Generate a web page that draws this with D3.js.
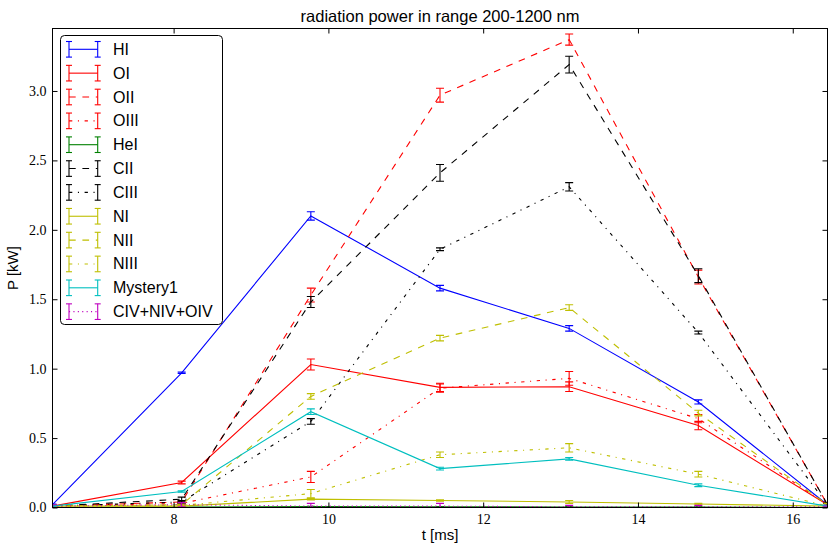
<!DOCTYPE html>
<html><head><meta charset="utf-8">
<script src="https://cdn.jsdelivr.net/npm/d3@7"></script>
<style>body{margin:0;background:#fff}svg{display:block}</style>
</head><body>
<svg id="c" width="837" height="552"></svg>
<script>
const times = [6.435, 8.104, 9.773, 11.442, 13.111, 14.780, 16.449];
const names = ["HI","OI","OII","OIII","HeI","CII","CIII","NI","NII","NIII","Mystery1","CIV+NIV+OIV"];
const colors = ["#0000ff","#ff0000","#ff0000","#ff0000","#008000","#000000","#000000","#bfbf00","#bfbf00","#bfbf00","#00bfbf","#bf00bf"];
const styles = ["-","-","--","-.","-","--","-.","-","--","-.","-",":"];
const HI    = [0.02, 0.97, 2.10, 1.58, 1.29, 0.76, 0.02];
const OI    = [0.01, 0.18, 1.03, 0.865, 0.87, 0.59, 0.02];
const OII   = [0.01, 0.04, 1.53, 2.97, 3.37, 1.66, 0.02];
const OIII  = [0.01, 0.03, 0.22, 0.86, 0.93, 0.64, 0.02];
const HeI   = [0.0, 0.003, 0.006, 0.005, 0.004, 0.003, 0.0];
const CII   = [0.01, 0.06, 1.48, 2.41, 3.19, 1.67, 0.02];
const CIII  = [0.01, 0.04, 0.62, 1.86, 2.31, 1.26, 0.02];
const NI    = [0.01, 0.01, 0.06, 0.05, 0.04, 0.025, 0.01];
const NII   = [0.01, 0.02, 0.80, 1.22, 1.44, 0.68, 0.02];
const NIII  = [0.01, 0.015, 0.10, 0.38, 0.43, 0.24, 0.01];
const Mystery1 = [0.01, 0.115, 0.69, 0.28, 0.35, 0.16, 0.01];
const CNO4  = [0.01, 0.02, 0.01, 0.01, 0.005, 0.005, 0.005];
const errHI   = [0.005, 0.005, 0.03, 0.02, 0.02, 0.015, 0.005];
const errOI   = [0.005, 0.01, 0.04, 0.03, 0.035, 0.03, 0.01];
const errOII  = [0.005, 0.01, 0.05, 0.05, 0.04, 0.05, 0.01];
const errOIII = [0.005, 0.01, 0.04, 0.03, 0.05, 0.03, 0.01];
const errHeI  = [0.002, 0.002, 0.002, 0.002, 0.002, 0.002, 0.002];
const errCII  = [0.005, 0.015, 0.04, 0.06, 0.06, 0.05, 0.01];
const errCIII = [0.005, 0.01, 0.02, 0.01, 0.03, 0.01, 0.01];
const errNI   = [0.003, 0.003, 0.005, 0.005, 0.01, 0.005, 0.003];
const errNII  = [0.005, 0.005, 0.02, 0.02, 0.02, 0.02, 0.01];
const errNIII = [0.005, 0.005, 0.03, 0.02, 0.03, 0.02, 0.005];
const errMystery1 = [0.005, 0.005, 0.02, 0.01, 0.01, 0.01, 0.005];
const errCNO4 = [0.01, 0.015, 0.02, 0.02, 0.01, 0.01, 0.005];
const values = [HI,OI,OII,OIII,HeI,CII,CIII,NI,NII,NIII,Mystery1,CNO4];
const errors = [errHI,errOI,errOII,errOIII,errHeI,errCII,errCIII,errNI,errNII,errNIII,errMystery1,errCNO4];
const xTicks = [8,10,12,14,16];
const yTicks = [0,0.5,1.0,1.5,2.0,2.5,3.0];

const dashMap = {"-":null,"--":"6.7,6.7","-.":"3.3,5.6,1.1,5.6",":":"1.1,3.3"};
const L=52.5, R=827.5, T=28.5, B=507.5;
const svg = d3.select("#c");
const x = d3.scaleLinear().domain([times[0], times[times.length-1]]).range([L,R]);
const y = d3.scaleLinear().domain([0,3.45]).range([B,T]);

svg.append("defs").append("clipPath").attr("id","clip")
  .append("rect").attr("x",L).attr("y",T).attr("width",R-L).attr("height",B-T);

const plot = svg.append("g").attr("clip-path","url(#clip)");
const line = d3.line().x((d,i)=>x(times[i])).y(d=>y(d));
values.forEach((vals,k)=>{
  const g = plot.append("g");
  const col = colors[k];
  g.append("path").attr("d",line(vals)).attr("fill","none").attr("stroke",col)
    .attr("stroke-width",1.1).attr("stroke-dasharray",dashMap[styles[k]]);
  vals.forEach((v,i)=>{
    const e = errors[k][i], cx = x(times[i]);
    const y1 = y(v+e), y2 = y(v-e);
    g.append("line").attr("x1",cx).attr("x2",cx).attr("y1",y1).attr("y2",y2).attr("stroke",col).attr("stroke-width",1.1);
    [y1,y2].forEach(yy=>g.append("line").attr("x1",cx-4).attr("x2",cx+4).attr("y1",yy).attr("y2",yy).attr("stroke",col).attr("stroke-width",1.1));
  });
});

// axes
const fSerif = "'Liberation Serif','DejaVu Serif',serif";
const fSans = "'Liberation Sans',Arial,sans-serif";
const ax = svg.append("g").attr("transform",`translate(0,${B})`)
  .call(d3.axisBottom(x).tickValues(xTicks).tickFormat(d3.format("d")).tickSize(-5).tickPadding(7));
const ay = svg.append("g").attr("transform",`translate(${L},0)`)
  .call(d3.axisLeft(y).tickValues(yTicks).tickFormat(d3.format(".1f")).tickSize(-5).tickPadding(6));
const at = svg.append("g").attr("transform",`translate(0,${T})`)
  .call(d3.axisTop(x).tickValues(xTicks).tickFormat("").tickSize(-5));
const ar = svg.append("g").attr("transform",`translate(${R},0)`)
  .call(d3.axisRight(y).tickValues(yTicks).tickFormat("").tickSize(-5));
[ax,ay,at,ar].forEach(a=>{a.select(".domain").remove();
  a.selectAll("line").attr("stroke","#000").attr("stroke-width",1);
  a.selectAll("text").attr("font-family",fSerif).attr("font-size",14).attr("fill","#000");});
svg.append("rect").attr("x",L).attr("y",T).attr("width",R-L).attr("height",B-T)
  .attr("fill","none").attr("stroke","#000").attr("stroke-width",1);

svg.append("text").attr("x",(L+R)/2).attr("y",22).attr("text-anchor","middle")
  .attr("font-family",fSans).attr("font-size",16.5).text("radiation power in range 200-1200 nm");
svg.append("text").attr("x",(L+R)/2).attr("y",540).attr("text-anchor","middle")
  .attr("font-family",fSans).attr("font-size",15).text("t [ms]");
svg.append("text").attr("transform",`translate(18,${(T+B)/2}) rotate(-90)`).attr("text-anchor","middle")
  .attr("font-family",fSans).attr("font-size",15).text("P [kW]");

// legend
const lg = svg.append("g");
lg.append("rect").attr("x",60.5).attr("y",35.5).attr("width",162).attr("height",289).attr("rx",4)
  .attr("fill","#fff").attr("stroke","#000").attr("stroke-width",1);
names.forEach((n,k)=>{
  const cy = 49.3 + k*23.85, col = colors[k], x0=69, x1=97.7;
  lg.append("line").attr("x1",x0).attr("x2",x1).attr("y1",cy).attr("y2",cy).attr("stroke",col)
    .attr("stroke-width",1.1).attr("stroke-dasharray",dashMap[styles[k]]);
  [x0,x1].forEach(xx=>{
    lg.append("line").attr("x1",xx).attr("x2",xx).attr("y1",cy-7.8).attr("y2",cy+7.8).attr("stroke",col).attr("stroke-width",1.1);
    [cy-7.8,cy+7.8].forEach(yy=>lg.append("line").attr("x1",xx-3).attr("x2",xx+3).attr("y1",yy).attr("y2",yy).attr("stroke",col).attr("stroke-width",1.1));
  });
  lg.append("text").attr("x",113).attr("y",cy+5.5).attr("font-family",fSans).attr("font-size",16).text(n);
});
</script>
</body></html>
